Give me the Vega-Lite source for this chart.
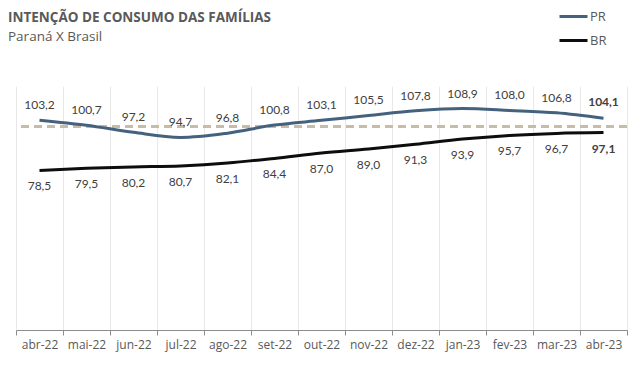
{
  "$schema": "https://vega.github.io/schema/vega-lite/v6.json",
  "autosize": "none",
  "width": 611,
  "height": 244,
  "padding": {"left": 16, "top": 86, "right": 8, "bottom": 35},
  "background": "white",
  "title": {
    "text": "INTENÇÃO DE CONSUMO DAS FAMÍLIAS",
    "subtitle": "Paraná X Brasil",
    "anchor": "start",
    "frame": "group",
    "dx": -8,
    "offset": -42,
    "font": "Open Sans",
    "fontSize": 13.5,
    "fontWeight": "bold",
    "color": "#595959",
    "subtitleFont": "Open Sans",
    "subtitleFontSize": 13.5,
    "subtitleColor": "#595959",
    "subtitlePadding": 5
  },
  "data": {
    "values": [
      {"mes": "abr-22", "serie": "PR", "valor": 103.2},
      {"mes": "mai-22", "serie": "PR", "valor": 100.7},
      {"mes": "jun-22", "serie": "PR", "valor": 97.2},
      {"mes": "jul-22", "serie": "PR", "valor": 94.7},
      {"mes": "ago-22", "serie": "PR", "valor": 96.8},
      {"mes": "set-22", "serie": "PR", "valor": 100.8},
      {"mes": "out-22", "serie": "PR", "valor": 103.1},
      {"mes": "nov-22", "serie": "PR", "valor": 105.5},
      {"mes": "dez-22", "serie": "PR", "valor": 107.8},
      {"mes": "jan-23", "serie": "PR", "valor": 108.9},
      {"mes": "fev-23", "serie": "PR", "valor": 108.0},
      {"mes": "mar-23", "serie": "PR", "valor": 106.8},
      {"mes": "abr-23", "serie": "PR", "valor": 104.1},
      {"mes": "abr-22", "serie": "BR", "valor": 78.5},
      {"mes": "mai-22", "serie": "BR", "valor": 79.5},
      {"mes": "jun-22", "serie": "BR", "valor": 80.2},
      {"mes": "jul-22", "serie": "BR", "valor": 80.7},
      {"mes": "ago-22", "serie": "BR", "valor": 82.1},
      {"mes": "set-22", "serie": "BR", "valor": 84.4},
      {"mes": "out-22", "serie": "BR", "valor": 87.0},
      {"mes": "nov-22", "serie": "BR", "valor": 89.0},
      {"mes": "dez-22", "serie": "BR", "valor": 91.3},
      {"mes": "jan-23", "serie": "BR", "valor": 93.9},
      {"mes": "fev-23", "serie": "BR", "valor": 95.7},
      {"mes": "mar-23", "serie": "BR", "valor": 96.7},
      {"mes": "abr-23", "serie": "BR", "valor": 97.1}
    ]
  },
  "encoding": {
    "x": {
      "field": "mes",
      "type": "nominal",
      "sort": null,
      "scale": {"paddingInner": 0, "paddingOuter": 0},
      "axis": {
        "title": null,
        "labelAngle": 0,
        "tickBand": "extent",
        "grid": true,
        "gridColor": "#e8e8e8",
        "domainColor": "#8c8c8c",
        "tickColor": "#8c8c8c",
        "tickSize": 5,
        "labelFont": "Open Sans",
        "labelFontSize": 12,
        "labelColor": "#595959",
        "labelPadding": 4
      }
    },
    "y": {
      "field": "valor",
      "type": "quantitative",
      "scale": {"domain": [0, 120], "nice": false, "zero": true},
      "axis": null
    }
  },
  "layer": [
    {
      "mark": {"type": "rule", "color": "#C8BCA6", "strokeWidth": 1.75, "strokeDash": [8, 5]},
      "encoding": {"y": {"datum": 100}, "x": null}
    },
    {
      "mark": {"type": "line", "interpolate": "monotone", "strokeWidth": 3},
      "encoding": {
        "color": {
          "field": "serie",
          "type": "nominal",
          "scale": {"domain": ["PR", "BR"], "range": ["#44627E", "#0D0D0D"]},
          "legend": {
            "title": null,
            "orient": "none",
            "legendX": 542,
            "legendY": -85,
            "direction": "vertical",
            "symbolType": "stroke",
            "symbolSize": 784,
            "symbolStrokeWidth": 3,
            "labelFont": "Open Sans",
            "labelFontSize": 13,
            "labelColor": "#595959",
            "labelOffset": 1,
            "rowPadding": 1
          }
        }
      }
    },
    {
      "transform": [{"filter": "datum.serie === 'PR' && datum.mes !== 'abr-23'"}],
      "mark": {"type": "text", "dy": -15, "font": "Lato", "fontSize": 12, "color": "#404040", "baseline": "middle"},
      "encoding": {"text": {"field": "valor", "type": "quantitative", "format": ".1f"}}
    },
    {
      "transform": [{"filter": "datum.serie === 'BR' && datum.mes !== 'abr-23'"}],
      "mark": {"type": "text", "dy": 16, "font": "Lato", "fontSize": 12, "color": "#404040", "baseline": "middle"},
      "encoding": {"text": {"field": "valor", "type": "quantitative", "format": ".1f"}}
    },
    {
      "transform": [{"filter": "datum.serie === 'PR' && datum.mes === 'abr-23'"}],
      "mark": {"type": "text", "dy": -16, "font": "Lato", "fontSize": 12, "fontWeight": "bold", "color": "#404040", "baseline": "middle"},
      "encoding": {"text": {"field": "valor", "type": "quantitative", "format": ".1f"}}
    },
    {
      "transform": [{"filter": "datum.serie === 'BR' && datum.mes === 'abr-23'"}],
      "mark": {"type": "text", "dy": 16, "font": "Lato", "fontSize": 12, "fontWeight": "bold", "color": "#404040", "baseline": "middle"},
      "encoding": {"text": {"field": "valor", "type": "quantitative", "format": ".1f"}}
    }
  ],
  "config": {
    "view": {"stroke": null},
    "locale": {"number": {"decimal": ",", "thousands": ".", "grouping": [3], "currency": ["R$ ", ""]}}
  }
}
